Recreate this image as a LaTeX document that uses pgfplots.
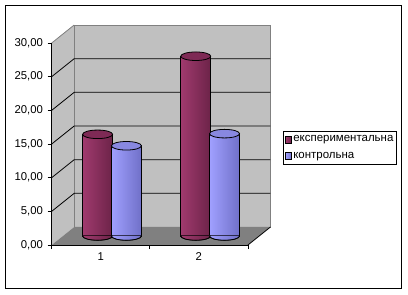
\documentclass[border=0pt]{standalone}
\usepackage{fontspec}
\setmainfont{Liberation Sans}
\usepackage{pgfplots}
\pgfplotsset{compat=1.18}
\definecolor{wall}{HTML}{C0C0C0}
\definecolor{floorc}{HTML}{808080}
\definecolor{edge}{HTML}{808080}
\definecolor{mL}{HTML}{A03A6E}
\definecolor{mR}{HTML}{6C2348}
\definecolor{mT}{HTML}{7E2A55}
\definecolor{mLeg}{HTML}{993366}
\definecolor{bL}{HTML}{A0A0FF}
\definecolor{bR}{HTML}{7070C8}
\definecolor{bT}{HTML}{8888E0}
\definecolor{bLeg}{HTML}{9999FF}
\pgfdeclareplotmark{topA}{%
  \path[fill=mT, draw=black, line width=0.6pt] (-10.8pt,0pt) ellipse [x radius=11.25pt, y radius=3.2pt];}
\pgfdeclareplotmark{topB}{%
  \path[fill=bT, draw=black, line width=0.6pt] (10.8pt,0pt) ellipse [x radius=11.25pt, y radius=3.2pt];}
\pgfdeclareplotmark{botA}{%
  \path[left color=mL, right color=mR] (-22.05pt,0.5pt) -- (-22.05pt,0pt) arc[start angle=180, end angle=360, x radius=11.25pt, y radius=3.2pt] -- (0.45pt,0.5pt) -- cycle;
  \draw[black, line width=0.6pt] (-22.05pt,0pt) arc[start angle=180, end angle=360, x radius=11.25pt, y radius=3.2pt];}
\pgfdeclareplotmark{botB}{%
  \path[left color=bL, right color=bR] (-0.45pt,0.5pt) -- (-0.45pt,0pt) arc[start angle=180, end angle=360, x radius=11.25pt, y radius=3.2pt] -- (22.05pt,0.5pt) -- cycle;
  \draw[black, line width=0.6pt] (-0.45pt,0pt) arc[start angle=180, end angle=360, x radius=11.25pt, y radius=3.2pt];}
\pgfplotsset{
  cylA/.style={ybar, bar width=22.5pt, bar shift=-10.8pt, draw=black, line width=0.6pt,
    left color=mL, right color=mR,
    legend image code/.code={\draw[fill=mLeg, draw=black, line width=0.4pt] (0pt,-2.4pt) rectangle (4.8pt,2.4pt);}},
  cylB/.style={ybar, bar width=22.5pt, bar shift=10.8pt, draw=black, line width=0.6pt,
    left color=bL, right color=bR,
    legend image code/.code={\draw[fill=bLeg, draw=black, line width=0.4pt] (0pt,-2.4pt) rectangle (4.8pt,2.4pt);}},
}
\begin{document}
\begin{tikzpicture}
\begin{axis}[
  scale only axis, width=147.2pt, height=151.5pt,
  at={(0,0)}, anchor=south west,
  xmin=0.3854, xmax=2.3854, ymin=-1.337, ymax=28.663,
  clip=false, axis on top,
  axis x line*=bottom, axis y line*=left,
  axis line style={black, line width=0.6pt, -},
  xtick={0.3854,1.3854,2.3854}, xticklabels={},
  extra x ticks={0.8854,1.8854}, extra x tick labels={1,2},
  extra x tick style={major tick length=0pt},
  ytick={-1.337,3.663,8.663,13.663,18.663,23.663,28.663},
  yticklabels={{0,00},{5,00},{10,00},{15,00},{20,00},{25,00},{30,00}},
  tick align=outside, major tick length=3pt,
  tick style={black, line width=0.6pt},
  ticklabel style={font=\fontsize{8.5}{10}\selectfont},
  xticklabel style={yshift=-2pt},
  legend cell align=left,
  legend style={at={(1.18,0.563)}, anchor=north west, draw=black, line width=0.6pt,
    font=\fontsize{8.6}{10}\selectfont, inner xsep=1pt, inner ysep=2pt,
    row sep=4pt, nodes={inner sep=1pt}},
]
% side wall
\fill[wall] (axis cs:0.3854,-1.337) -- (axis cs:0.3854,28.663) -- (axis cs:0.6146,31.337) -- (axis cs:0.6146,1.337) -- cycle;
% back wall
\filldraw[fill=wall, draw=edge, line width=0.6pt] (axis cs:0.6146,1.337) rectangle (axis cs:2.6146,31.337);
\draw[edge, line width=0.6pt] (axis cs:0.3854,28.663) -- (axis cs:0.6146,31.337);
% floor
\fill[floorc] (axis cs:0.3854,-1.337) -- (axis cs:2.3854,-1.337) -- (axis cs:2.6146,1.337) -- (axis cs:0.6146,1.337) -- cycle;
\draw[black, line width=0.6pt] (axis cs:2.3854,-1.337) -- (axis cs:2.6146,1.337);
% gridlines
\draw[black, line width=0.6pt] (axis cs:0.3854,3.663) -- (axis cs:0.6146,6.337) -- (axis cs:2.6146,6.337);
\draw[black, line width=0.6pt] (axis cs:0.3854,8.663) -- (axis cs:0.6146,11.337) -- (axis cs:2.6146,11.337);
\draw[black, line width=0.6pt] (axis cs:0.3854,13.663) -- (axis cs:0.6146,16.337) -- (axis cs:2.6146,16.337);
\draw[black, line width=0.6pt] (axis cs:0.3854,18.663) -- (axis cs:0.6146,21.337) -- (axis cs:2.6146,21.337);
\draw[black, line width=0.6pt] (axis cs:0.3854,23.663) -- (axis cs:0.6146,26.337) -- (axis cs:2.6146,26.337);
% series A (експериментальна)
\addplot[cylA] coordinates {(1,15.1)};
\addlegendentry{експериментальна}
\addplot[only marks, mark=botA, forget plot] coordinates {(1,0)};
\addplot[only marks, mark=topA, forget plot] coordinates {(1,15.1)};
\addplot[cylA, forget plot] coordinates {(2,26.7)};
\addplot[only marks, mark=botA, forget plot] coordinates {(2,0)};
\addplot[only marks, mark=topA, forget plot] coordinates {(2,26.7)};
% series B (контрольна)
\addplot[cylB] coordinates {(1,13.4)};
\addlegendentry{контрольна}
\addplot[only marks, mark=botB, forget plot] coordinates {(1,0)};
\addplot[only marks, mark=topB, forget plot] coordinates {(1,13.4)};
\addplot[cylB, forget plot] coordinates {(2,15.2)};
\addplot[only marks, mark=botB, forget plot] coordinates {(2,0)};
\addplot[only marks, mark=topB, forget plot] coordinates {(2,15.2)};
\end{axis}
\draw[black, line width=0.75pt] (-34.65pt,-32.6pt) rectangle (262.35pt,179.6pt);
\path (-38.775pt,-36.75pt) rectangle (267.225pt,183.75pt);
\end{tikzpicture}
\end{document}
